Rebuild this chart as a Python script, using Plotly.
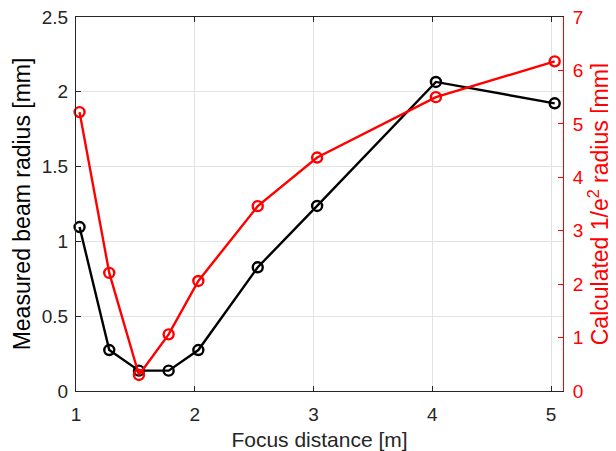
import plotly.graph_objects as go

focus_distance = [1.03, 1.28, 1.53, 1.78, 2.03, 2.53, 3.03, 4.03, 5.03]
measured_radius = [1.096, 0.274, 0.136, 0.136, 0.274, 0.827, 1.237, 2.066, 1.923]
calculated_radius = [5.22, 2.21, 0.30, 1.06, 2.06, 3.46, 4.37, 5.50, 6.17]

x_ticks = [1, 2, 3, 4, 5]
y_ticks = [0, 0.5, 1, 1.5, 2, 2.5]
y2_ticks = [0, 1, 2, 3, 4, 5, 6, 7]

FONT = "Liberation Sans, Arial, Helvetica, sans-serif"
AX = "#262626"
RED = "#ff0000"
TICK = 19
XTITLE = 21
YTITLE = 23

fig = go.Figure()
fig.add_trace(go.Scatter(
    x=focus_distance, y=measured_radius, mode="lines+markers",
    line=dict(color="black", width=2.4),
    marker=dict(symbol="circle-open", size=10, color="black", line=dict(width=2.4)),
    showlegend=False, cliponaxis=False))
fig.add_trace(go.Scatter(
    x=focus_distance, y=calculated_radius, mode="lines+markers", yaxis="y2",
    line=dict(color=RED, width=2.4),
    marker=dict(symbol="circle-open", size=10, color=RED, line=dict(width=2.4)),
    showlegend=False, cliponaxis=False))

# page body has an 8px margin, so the canvas is shifted by 8px
fig.update_layout(
    width=608, height=443,
    margin=dict(l=68, r=53, t=9, b=60, autoexpand=False),
    paper_bgcolor="white", plot_bgcolor="white",
    font=dict(family=FONT, size=TICK, color=AX),
    xaxis=dict(
        range=[1, 5.1], tickvals=x_ticks, ticks="inside", ticklen=5,
        tickcolor=AX, showline=True, linecolor=AX, linewidth=1, mirror="ticks",
        showgrid=True, gridcolor="#e3e3e3", zeroline=False, automargin=False,
        ticklabelstandoff=6, ticklabeloverflow="allow",
        title=dict(text="Focus distance [m]", font=dict(size=XTITLE, color=AX), standoff=15),
        tickfont=dict(size=TICK, color=AX)),
    yaxis=dict(
        range=[0, 2.5], tickvals=y_ticks, ticks="inside", ticklen=5,
        tickcolor=AX, showline=True, linecolor=AX, linewidth=1,
        showgrid=True, gridcolor="#e3e3e3", zeroline=False, automargin=False,
        ticklabelstandoff=3, ticklabeloverflow="allow",
        title=dict(text="Measured beam radius [mm]", font=dict(size=YTITLE, color="black"), standoff=4),
        tickfont=dict(size=TICK, color=AX)),
    yaxis2=dict(
        range=[0, 7], tickvals=y2_ticks, ticks="inside", ticklen=5,
        tickcolor=RED, showline=True, linecolor=RED, linewidth=1,
        overlaying="y", side="right", showgrid=False, zeroline=False, automargin=False,
        ticklabelstandoff=5, ticklabeloverflow="allow",
        title=dict(text="Calculated 1/e<sup>2</sup> radius [mm]", font=dict(size=YTITLE, color=RED), standoff=8),
        tickfont=dict(size=TICK, color=RED)),
)

fig.write_html("out.html")
